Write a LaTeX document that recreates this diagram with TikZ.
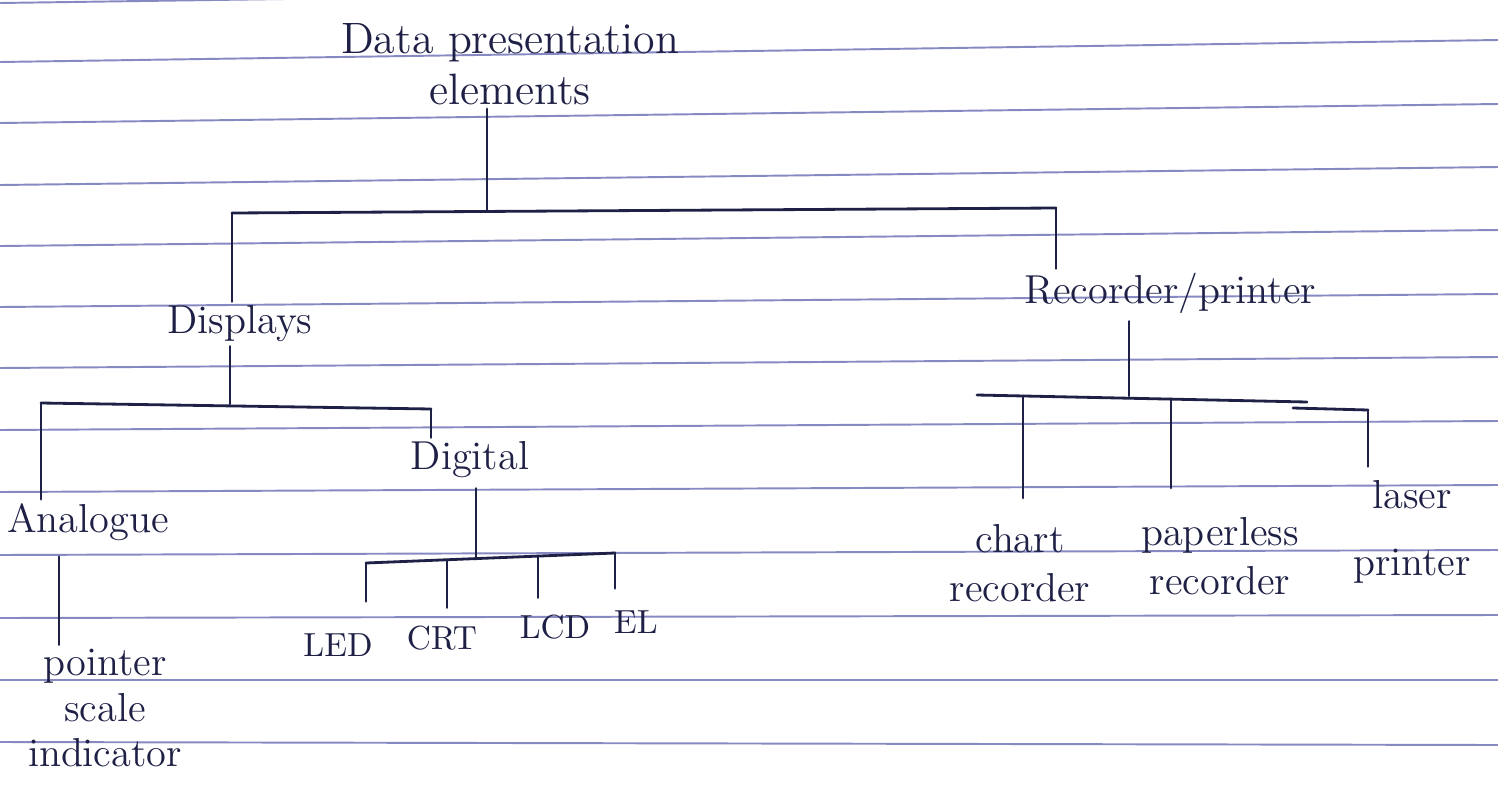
\documentclass[tikz,border=0pt]{standalone}
\definecolor{ink}{RGB}{30,32,70}
\definecolor{paper}{RGB}{135,137,195}
\tikzset{
  lbl/.style={font=\fontsize{11.5}{14}\selectfont, text=ink, inner sep=1pt, align=center},
  rootlbl/.style={font=\fontsize{12.5}{14.5}\selectfont, text=ink, inner sep=1pt, align=center},
  sm/.style={font=\fontsize{9.5}{11}\selectfont, text=ink, inner sep=1pt},
  ln/.style={draw=ink, line width=0.8pt, line cap=round},
  rule/.style={draw=paper, line width=0.55pt}
}
\begin{document}
\begin{tikzpicture}[x=1cm,y=1cm]
\useasboundingbox (0,0) rectangle (14.98,-7.91);
\fill[white] (0,0) rectangle (14.98,-7.91);
% ruled paper
\foreach \l/\r in {-0.03/0.18, -0.62/-0.40, -1.23/-1.04, -1.85/-1.67, -2.46/-2.30, -3.07/-2.94, -3.68/-3.57, -4.30/-4.21, -4.92/-4.85, -5.55/-5.50, -6.18/-6.15, -6.80/-6.80, -7.42/-7.45}
  \draw[rule] (0,\l) -- (14.98,\r);

% nodes
\node[rootlbl] (root) at (5.10,-0.64) {Data presentation\\elements};
\node[lbl] (disp) at (2.40,-3.24) {Displays};
\node[lbl] (recp) at (11.70,-2.93) {Recorder/printer};
\node[lbl] (ana) at (0.88,-5.22) {Analogue};
\node[lbl] (dig) at (4.70,-4.60) {Digital};
\node[lbl, font=\fontsize{11.5}{13}\selectfont] (ptr) at (1.05,-7.08) {pointer\\scale\\indicator};
\node[sm] (led) at (3.38,-6.45) {LED};
\node[sm] (crt) at (4.42,-6.38) {CRT};
\node[sm] (lcd) at (5.55,-6.27) {LCD};
\node[sm] (el) at (6.36,-6.22) {EL};
\node[lbl] (chart) at (10.20,-5.63) {chart\\recorder};
\node[lbl] (paper) at (12.20,-5.56) {paperless\\recorder};
\node[lbl] (laser) at (14.12,-5.32) {laser\\[5pt]printer};

% junction coordinates
\coordinate (t0) at (4.87,-2.11);
\coordinate (tL) at (2.32,-2.13);
\coordinate (tR) at (10.56,-2.08);
\coordinate (dJ) at (2.30,-4.04);
\coordinate (dL) at (0.41,-4.03);
\coordinate (dR) at (4.31,-4.09);
\coordinate (gJ) at (4.76,-5.59);
\coordinate (gL) at (3.66,-5.63);
\coordinate (gC) at (4.47,-5.60);
\coordinate (gD) at (5.38,-5.56);
\coordinate (gR) at (6.15,-5.53);
\coordinate (aJ) at (0.59,-5.60);
\coordinate (rJ) at (11.29,-3.96);
\coordinate (rL) at (9.77,-3.95);
\coordinate (rM) at (13.07,-4.02);
\coordinate (rA) at (10.23,-3.96);
\coordinate (rB) at (11.71,-3.99);
\coordinate (rS) at (12.93,-4.08);
\coordinate (rC) at (13.68,-4.10);

% connectors: root
\draw[ln] (root.south -| t0) -- (t0);
\draw[ln] (tL) -- (tR);
\draw[ln] (tL) -- (tL |- disp.north);
\draw[ln] (tR) -- (tR |- recp.north);

% displays
\draw[ln] (disp.south -| dJ) -- (dJ);
\draw[ln] (dL) -- (dR);
\draw[ln] (dL) -- (dL |- ana.north);
\draw[ln] (dR) -- (dR |- dig.north);

% analogue
\draw[ln, shorten <=0.12cm] (ana.south -| aJ) -- (aJ |- ptr.north);

% digital
\draw[ln, shorten <=0.06cm] (dig.south -| gJ) -- (gJ);
\draw[ln] (gL) -- (gR);
\draw[ln, shorten >=0.28cm] (gL) -- (gL |- led.north);
\draw[ln, shorten >=0.14cm] (gC) -- (gC |- crt.north);
\draw[ln, shorten >=0.13cm] (gD) -- (gD |- lcd.north);
\draw[ln, shorten >=0.18cm] (gR) -- (gR |- el.north);

% recorder/printer
\draw[ln, shorten <=0.04cm] (recp.south -| rJ) -- (rJ);
\draw[ln] (rL) -- (rM);
\draw[ln] (rS) -- (rC);
\draw[ln, shorten >=0.22cm] (rA) -- (rA |- chart.north);
\draw[ln, shorten >=0.25cm] (rB) -- (rB |- paper.north);
\draw[ln, shorten >=0.10cm] (rC) -- (rC |- laser.north);
\end{tikzpicture}
\end{document}
